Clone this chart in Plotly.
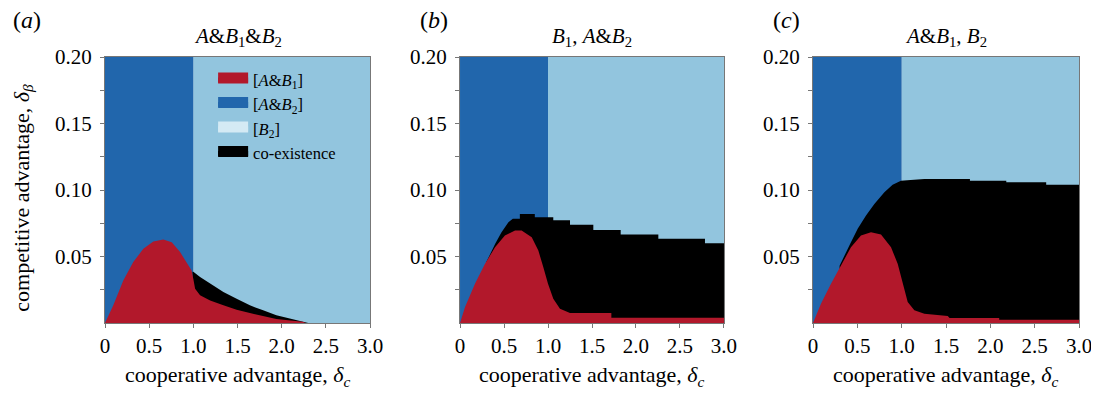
import plotly.graph_objects as go

# ---------------- data ----------------
x_range = [0.0, 3.0]
y_range = [0.0, 0.20]
split_x = 1.0          # boundary between [A&B2] (left) and [B2] (right)

x_tickvals = [0, 0.5, 1.0, 1.5, 2.0, 2.5, 3.0]
x_ticktext = ["0", "0.5", "1.0", "1.5", "2.0", "2.5", "3.0"]
y_tickvals = [0.05, 0.10, 0.15, 0.20]
y_ticktext = ["0.05", "0.10", "0.15", "0.20"]
y_minorvals = [0.025, 0.075, 0.125, 0.175]

# panel (a)
a_red_x = [0, 0.094, 0.207, 0.32, 0.434, 0.547, 0.66, 0.755, 0.85, 0.943, 0.98, 1.0,
           1.02, 1.076, 1.19, 1.34, 1.49, 1.64, 1.79, 1.94, 2.1, 2.24, 2.27]
a_red_y = [0, 0.0133, 0.032, 0.0458, 0.0558, 0.0613, 0.0628, 0.0608, 0.0533, 0.0433, 0.0395, 0.033,
           0.0258, 0.0208, 0.017, 0.0133, 0.010, 0.0075, 0.005, 0.003, 0.0018, 0.001, 0.0]
a_coex_x = [0.99, 1.0, 1.076, 1.19, 1.34, 1.49, 1.64, 1.79, 1.94, 2.08, 2.21, 2.3]
a_coex_y = [0.0385, 0.0385, 0.0345, 0.0295, 0.0233, 0.0183, 0.0133, 0.0095, 0.0058, 0.0035, 0.0015, 0.0]

# panel (b)
b_red_x = [0, 0.057, 0.17, 0.284, 0.398, 0.51, 0.625, 0.70, 0.815, 0.89, 0.947, 1.0,
           1.06, 1.136, 1.25, 1.72, 1.72, 3.0]
b_red_y = [0, 0.012, 0.0295, 0.0445, 0.057, 0.0658, 0.0695, 0.0695, 0.0645, 0.0545, 0.042, 0.0295,
           0.0183, 0.0108, 0.0075, 0.0075, 0.004, 0.004]
b_coex_x = [0.30, 0.38, 0.40, 0.47, 0.55, 0.60, 0.68, 0.68, 0.85, 0.85, 1.06, 1.06, 1.25, 1.25,
            1.515, 1.515, 1.826, 1.826, 2.254, 2.254, 2.784, 2.784, 3.0]
b_coex_y = [0.046, 0.057, 0.0595, 0.068, 0.0758, 0.0783, 0.0783, 0.082, 0.082, 0.0795, 0.0795, 0.0772,
            0.0772, 0.0738, 0.0738, 0.070, 0.070, 0.0666, 0.0666, 0.0633, 0.0633, 0.060, 0.060]

# panel (c)
c_red_x = [0, 0.09, 0.203, 0.316, 0.428, 0.541, 0.654, 0.767, 0.88, 0.955, 1.011, 1.068,
           1.143, 1.256, 1.52, 1.54, 2.1, 2.1, 3.0]
c_red_y = [0, 0.0145, 0.0295, 0.0433, 0.057, 0.0658, 0.0683, 0.0665, 0.057, 0.0445, 0.0295, 0.0158,
           0.0095, 0.007, 0.0053, 0.0038, 0.0038, 0.0025, 0.0025]
c_coex_x = [0.30, 0.354, 0.428, 0.504, 0.598, 0.692, 0.805, 0.898, 0.992, 1.1, 1.256, 1.77, 1.77,
            2.18, 2.18, 2.63, 2.63, 3.0]
c_coex_y = [0.043, 0.0508, 0.0608, 0.0708, 0.0808, 0.0895, 0.0983, 0.104, 0.107, 0.1075, 0.1083,
            0.1083, 0.107, 0.107, 0.1058, 0.1058, 0.104, 0.104]

panel_titles = ["<i>A</i>&amp;<i>B</i><sub>1</sub>&amp;<i>B</i><sub>2</sub>",
                "<i>B</i><sub>1</sub>, <i>A</i>&amp;<i>B</i><sub>2</sub>",
                "<i>A</i>&amp;<i>B</i><sub>1</sub>, <i>B</i><sub>2</sub>"]
panel_letters = ["(<i>a</i>)", "(<i>b</i>)", "(<i>c</i>)"]
legend_names = ["[<i>A</i>&amp;<i>B</i><sub>1</sub>]", "[<i>A</i>&amp;<i>B</i><sub>2</sub>]",
                "[<i>B</i><sub>2</sub>]", "co-existence"]

# ---------------- styling ----------------
RED = "#b2182b"
BLUE = "#2166ac"
LIGHT = "#92c5de"
BLACK = "#000000"
LEGEND_COLORS = [RED, BLUE, "#d4eaf4", BLACK]
FONT = "Liberation Serif, Times New Roman, serif"
# page body has an 8px margin, so the figure is sized / offset to compensate
W, H = 1091, 382
ML, MR, MT, MB = 97, 20, 49, 67
domains = [[0.0, 0.2721], [0.3645, 0.6355], [0.7269, 1.0]]

panels = [(a_red_x, a_red_y, a_coex_x, a_coex_y),
          (b_red_x, b_red_y, b_coex_x, b_coex_y),
          (c_red_x, c_red_y, c_coex_x, c_coex_y)]

fig = go.Figure()
for i, (rx, ry, cx, cy) in enumerate(panels):
    xa = "x" if i == 0 else f"x{i+1}"
    ya = "y" if i == 0 else f"y{i+1}"
    common = dict(mode="lines", line=dict(width=0), fill="tozeroy", hoverinfo="skip",
                  showlegend=False, xaxis=xa, yaxis=ya)
    fig.add_trace(go.Scatter(x=[split_x, x_range[1]], y=[y_range[1], y_range[1]],
                             fillcolor=LIGHT, **common))
    fig.add_trace(go.Scatter(x=[x_range[0], split_x], y=[y_range[1], y_range[1]],
                             fillcolor=BLUE, **common))
    fig.add_trace(go.Scatter(x=cx, y=cy, fillcolor=BLACK, **common))
    fig.add_trace(go.Scatter(x=rx, y=ry, fillcolor=RED, **common))

# legend entries
for name, col in zip(legend_names, LEGEND_COLORS):
    fig.add_trace(go.Scatter(x=[None], y=[None], mode="lines", fill="toself", fillcolor=col,
                             line=dict(color=col, width=10), name=name, showlegend=True,
                             xaxis="x", yaxis="y"))

axis_common = dict(showline=True, linecolor="#777777", linewidth=1, mirror=True,
                   ticks="outside", ticklen=4, tickcolor="#777777", showgrid=False,
                   zeroline=False, ticklabeloverflow="allow",
                   tickfont=dict(family=FONT, size=21, color="black"))
layout = dict(width=W, height=H, margin=dict(l=ML, r=MR, t=MT, b=MB, autoexpand=False),
              paper_bgcolor="white", plot_bgcolor="white",
              font=dict(family=FONT, color="black"),
              showlegend=True,
              legend=dict(x=0.111, y=0.98, xanchor="left", yanchor="top",
                          bgcolor="rgba(0,0,0,0)", font=dict(family=FONT, size=16.5),
                          tracegroupgap=0))
for i in range(3):
    xk = "xaxis" if i == 0 else f"xaxis{i+1}"
    yk = "yaxis" if i == 0 else f"yaxis{i+1}"
    ya = "y" if i == 0 else f"y{i+1}"
    xa = "x" if i == 0 else f"x{i+1}"
    layout[xk] = dict(domain=domains[i], range=x_range, anchor=ya,
                      tickvals=x_tickvals, ticktext=x_ticktext, **axis_common)
    layout[yk] = dict(domain=[0, 1], range=y_range, anchor=xa,
                      tickvals=y_tickvals, ticktext=y_ticktext, ticklabelstandoff=4,
                      minor=dict(tickvals=y_minorvals, ticks="outside", ticklen=4,
                                 tickcolor="#777777"),
                      **axis_common)
fig.update_layout(**layout)

annotations = []
for i in range(3):
    cxp = (domains[i][0] + domains[i][1]) / 2
    annotations.append(dict(text=panel_titles[i], x=cxp, y=1.075, xref="paper", yref="paper",
                            xanchor="center", yanchor="middle", showarrow=False,
                            font=dict(family=FONT, size=21)))
    annotations.append(dict(text="cooperative advantage, <i>δ</i><sub><i>c</i></sub>",
                            x=cxp, y=-0.198, xref="paper", yref="paper",
                            xanchor="center", yanchor="middle", showarrow=False,
                            font=dict(family=FONT, size=22)))
letter_x = [-0.080, 0.338, 0.700]
for i in range(3):
    annotations.append(dict(text=panel_letters[i], x=letter_x[i], y=1.139, xref="paper",
                            yref="paper", xanchor="center", yanchor="middle", showarrow=False,
                            font=dict(family=FONT, size=24)))
annotations.append(dict(text="competitive advantage, <i>δ</i><sub><i>β</i></sub>",
                        x=-0.0845, y=0.47, xref="paper", yref="paper", textangle=-90,
                        xanchor="center", yanchor="middle", showarrow=False,
                        font=dict(family=FONT, size=22)))
fig.update_layout(annotations=annotations)

fig.write_html("out.html")
